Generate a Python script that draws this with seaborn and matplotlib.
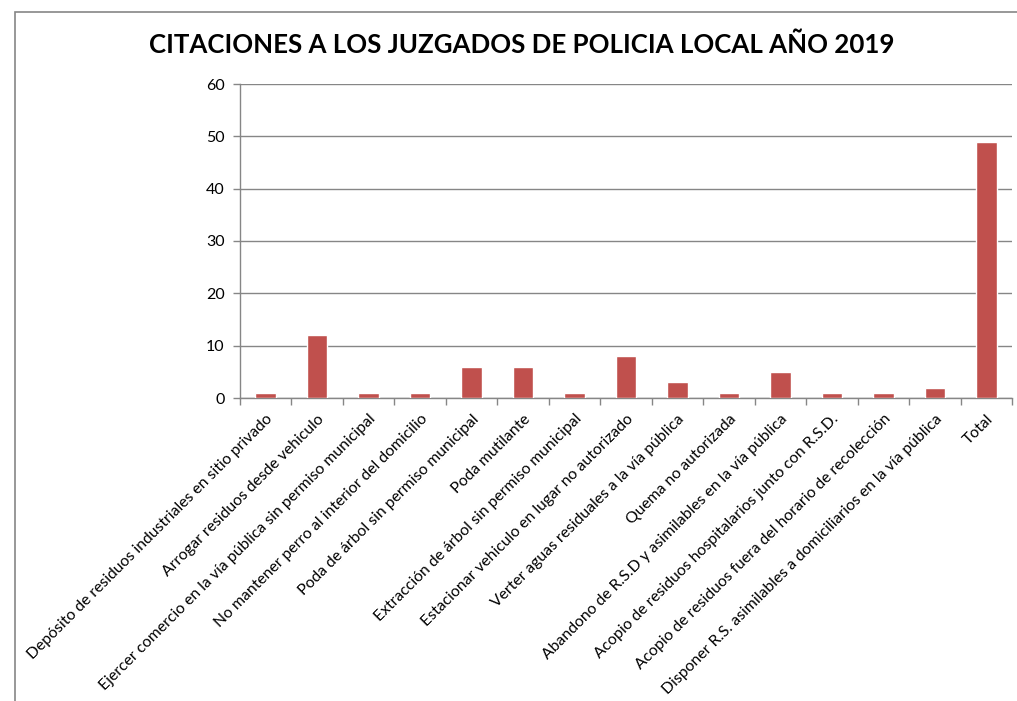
import matplotlib
matplotlib.use("Agg")
import matplotlib.pyplot as plt
import seaborn as sns
import pandas as pd
import numpy as np
from matplotlib.patches import Rectangle

categories = [
    "Depósito de residuos industriales en sitio privado",
    "Arrogar residuos desde vehiculo",
    "Ejercer comercio en la vía pública sin permiso municipal",
    "No mantener perro al interior del domicilio",
    "Poda de árbol sin permiso municipal",
    "Poda mutilante",
    "Extracción de árbol sin permiso municipal",
    "Estacionar vehiculo en lugar no autorizado",
    "Verter aguas residuales a la vía pública",
    "Quema no autorizada",
    "Abandono de R.S.D y asimilables en la vía pública",
    "Acopio de residuos hospitalarios junto con R.S.D.",
    "Acopio de residuos fuera del horario de recolección",
    "Disponer R.S. asimilables a domiciliarios en la vía pública",
    "Total",
]
values = [1, 12, 1, 1, 6, 6, 1, 8, 3, 1, 5, 1, 1, 2, 49]
title = "CITACIONES A LOS JUZGADOS DE POLICIA LOCAL AÑO 2019"

sns.set_theme(style="white")
plt.rcParams['font.family'] = ['Lato', 'DejaVu Sans']

df = pd.DataFrame({"cat": categories, "val": values})

fig = plt.figure(figsize=(10.17, 7.01), dpi=100)
ax = fig.add_axes([240 / 1017, 1 - 398 / 701, (1012 - 240) / 1017, (398 - 84) / 701])

sns.barplot(data=df, x="cat", y="val", color="#C0504D", width=0.4,
            saturation=1, ax=ax, zorder=3)

ax.set_xlim(-0.5, len(categories) - 0.5)
ax.set_ylim(0, 60)
ax.set_yticks(range(0, 61, 10))
ax.grid(axis="y", color="#868686", linewidth=1.0, zorder=0)
ax.set_axisbelow(True)

for s in ["top", "right"]:
    ax.spines[s].set_visible(False)
for s in ["left", "bottom"]:
    ax.spines[s].set_color("#868686")
    ax.spines[s].set_linewidth(1.0)

# category labels at centres, ticks at category boundaries
ax.set_xticks(np.arange(len(categories)))
ax.set_xticklabels(categories, rotation=45, ha="right", va="top",
                   rotation_mode="anchor", fontsize=11.3, color="black")
ax.tick_params(axis="x", which="major", length=0, pad=10)
ax.set_xticks(np.arange(-0.5, len(categories)), minor=True)
ax.tick_params(axis="x", which="minor", length=5, width=1, color="#868686",
               direction="out", bottom=True)
ax.tick_params(axis="y", length=5, width=1, color="#868686", direction="out",
               left=True, labelsize=11.5, labelcolor="black", pad=6)
ax.set_xlabel("")
ax.set_ylabel("")

fig.text(522 / 1017, 1 - 45 / 701, title, ha="center", va="center",
         fontsize=18.6, fontweight="bold", color="black")

# chart area frame
fig.patches.append(Rectangle((15 / 1017, -0.1), 1.2, 1 - 12 / 701 + 0.1,
                             transform=fig.transFigure, fill=False,
                             edgecolor="#868686", linewidth=1.2))

fig.savefig("out.png", dpi=100)
